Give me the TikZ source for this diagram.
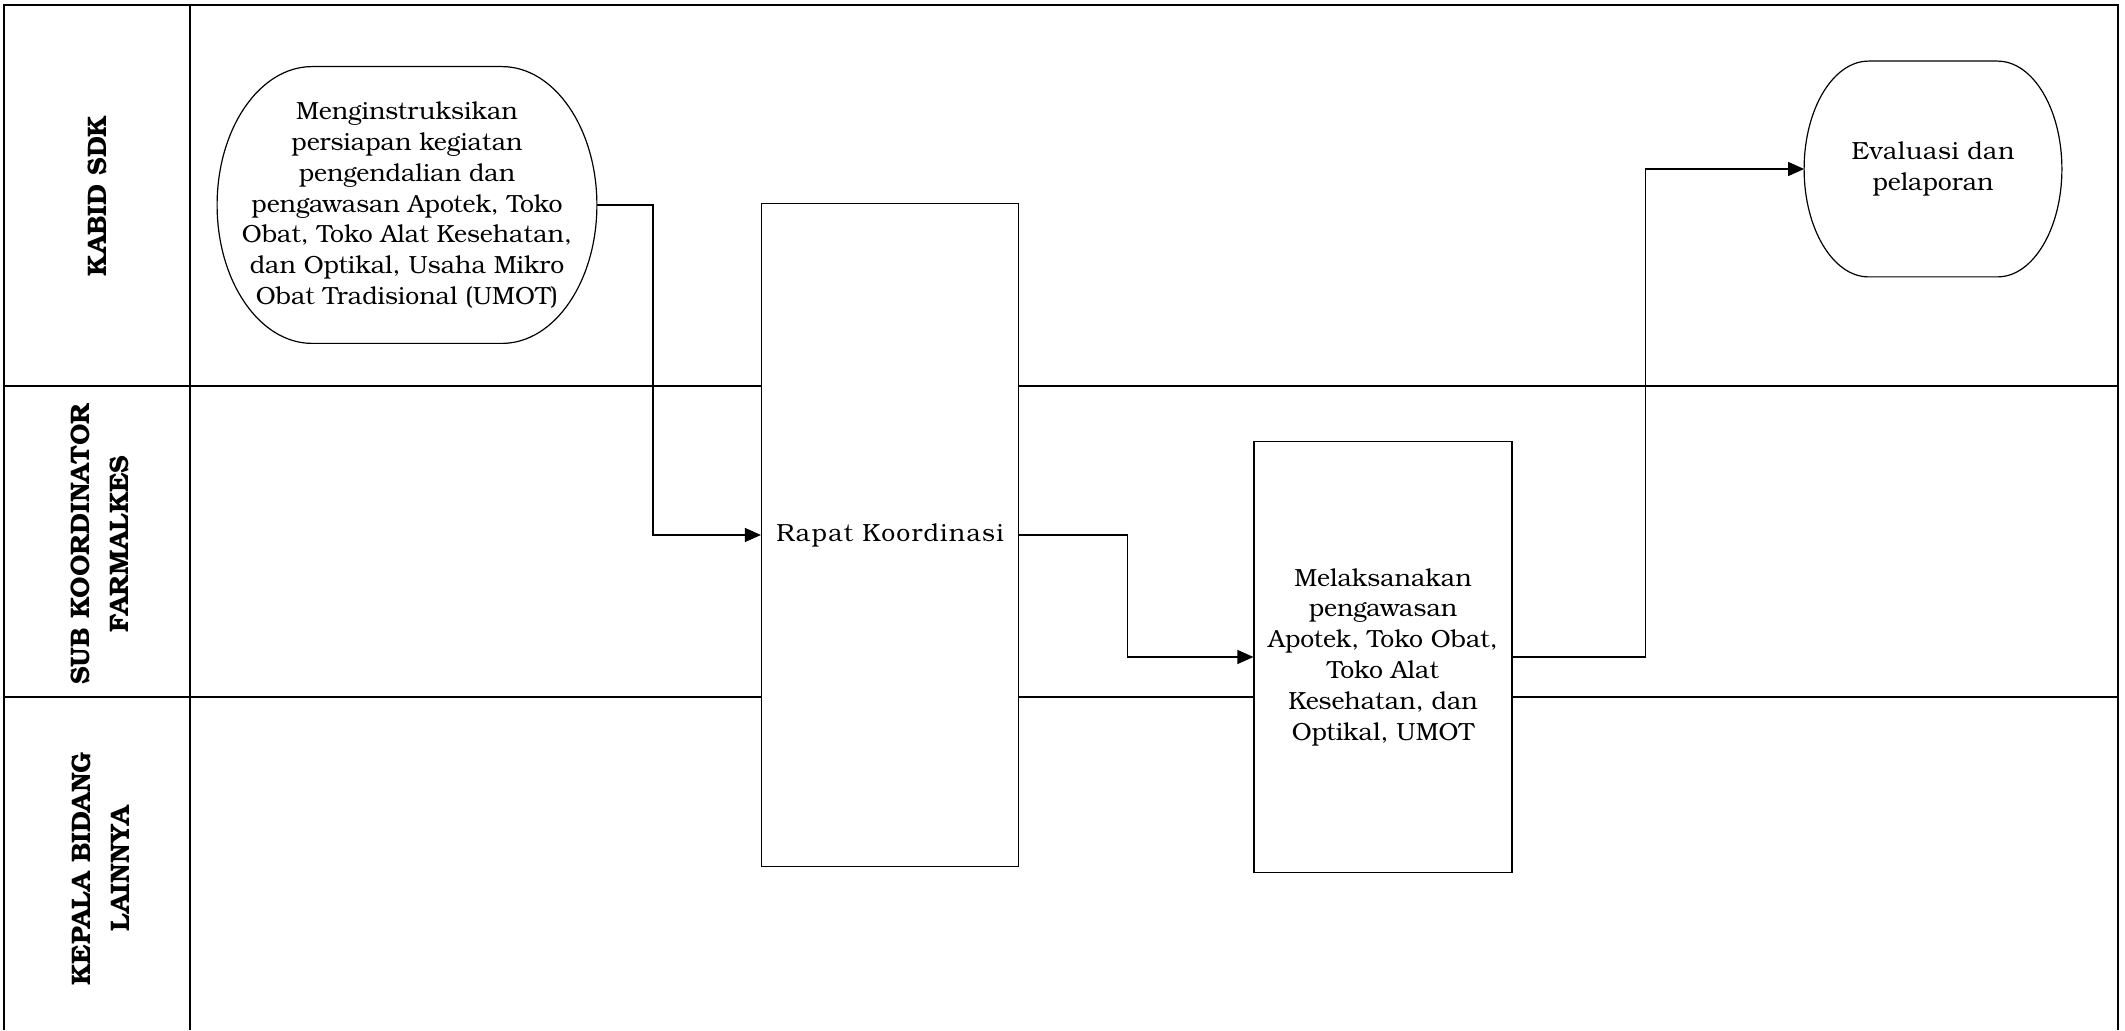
\documentclass[tikz,border=0pt]{standalone}
\usepackage{fontspec}
\setmainfont{texgyrebonum}[Extension=.otf,UprightFont=*-regular,BoldFont=*-bold,ItalicFont=*-italic,BoldItalicFont=*-bolditalic]
\usetikzlibrary{positioning,arrows.meta,calc}
\newcommand\boxtxt{\fontsize{12.4}{15.4}\selectfont}
\newcommand\lanetxt{\fontsize{13.4}{19.5}\selectfont\bfseries}
\tikzset{
  >={Triangle[length=8pt,width=7pt]},
  lane/.style={line width=1pt},
  proc/.style={draw, fill=white, line width=0.6pt, align=center, font=\boxtxt, inner sep=2pt},
  term/.style={align=center, font=\boxtxt, inner sep=2pt},
  lbl/.style={rotate=90, align=center, font=\lanetxt},
  l/.style={->, line width=0.6pt},
}
% outline of a start/end node: flat top and bottom, half-ellipse sides
\newcommand\termline[1]{%
  \draw[line width=0.6pt] let \p1=(#1.north west), \p2=(#1.south east),
    \n1={(\x2-\x1)/4}, \n2={(\y1-\y2)/2} in
    (\x1+\n1,\y1) -- (\x2-\n1,\y1)
    arc[start angle=90, end angle=-90, x radius=\n1, y radius=\n2]
    -- (\x1+\n1,\y2)
    arc[start angle=270, end angle=90, x radius=\n1, y radius=\n2] -- cycle;}

\begin{document}
\begin{tikzpicture}[x=0.5pt,y=0.5pt]
  \useasboundingbox (0,0) rectangle (2125,1030);
  % swimlanes
  \draw[lane] (4,0) |- (2118,1025) -- (2118,0);
  \draw[lane] (190,0) -- (190,1025);
  \draw[lane] (4,644) -- (2118,644);
  \draw[lane] (4,333) -- (2118,333);
  \node[lbl] (kabid) at (97,834) {KABID SDK};
  \node[lbl] (sub) at (100,486) {SUB KOORDINATOR\\FARMALKES};
  \node[lbl] (kepala) at (101,161) {KEPALA BIDANG\\LAINNYA};
  % steps
  \node[term,minimum width=189.5pt,minimum height=138pt] (start) at (407,825)
    {Menginstruksikan\\persiapan kegiatan\\pengendalian dan\\pengawasan Apotek, Toko\\Obat, Toko Alat Kesehatan,\\dan Optikal, Usaha Mikro\\Obat Tradisional (UMOT)};
  \termline{start}
  \node[proc,minimum width=128.5pt,minimum height=331.5pt] (rapat) at (890,495)
    {\addfontfeatures{LetterSpace=5}Rapat Koordinasi};
  \node[proc,minimum width=129pt,minimum height=215.5pt] (awas) at (1383,373)
    {Melaksanakan\\pengawasan\\Apotek, Toko Obat,\\Toko Alat\\Kesehatan, dan\\Optikal, UMOT};
  \node[term,minimum width=128.5pt,minimum height=107.5pt] (eval) at (1933,861)
    {\addfontfeatures{LetterSpace=2}Evaluasi dan\\pelaporan};
  \termline{eval}
  % flow
  \draw[l] (start.east) -- ++(28pt,0) |- (rapat.west);
  \draw[l] (rapat.east) -- ++(54.25pt,0) |- (awas.west);
  \draw[l] (awas.east) -- ++(66.5pt,0) |- (eval.west);
\end{tikzpicture}
\end{document}
